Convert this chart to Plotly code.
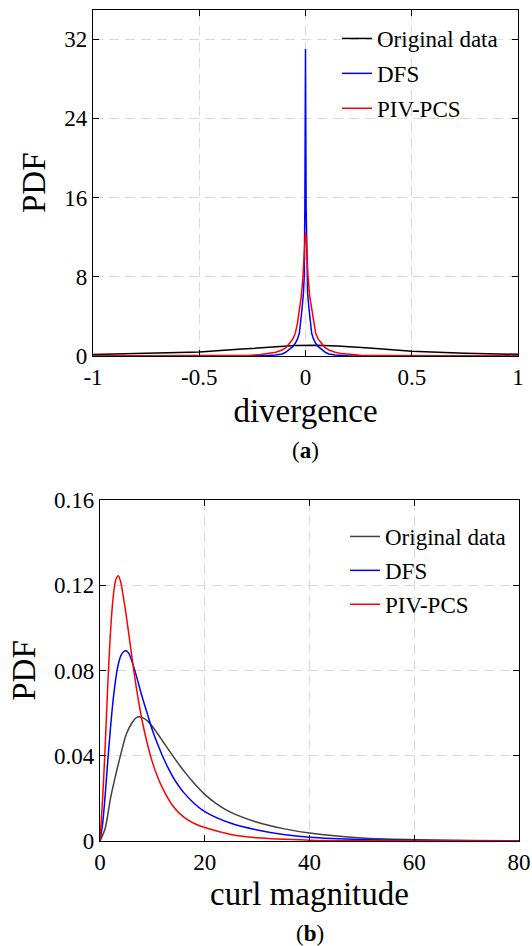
import plotly.graph_objects as go

# ---------------- Panel (a): divergence PDFs ----------------
div_orig_x = [-1.0, -0.75, -0.5, -0.3, -0.15, -0.05, 0.05, 0.15, 0.3, 0.5, 0.75, 1.0]
div_orig_y = [0.15, 0.25, 0.40, 0.70, 0.95, 1.05, 1.08, 1.02, 0.80, 0.47, 0.28, 0.17]

div_dfs_x = [-1.0, -0.5, -0.3, -0.2, -0.14, -0.11, -0.095, -0.079, -0.06, -0.048, -0.038, -0.029,
             -0.023, -0.017, -0.01, -0.006, -0.003, -0.0015, 0.0,
             0.003, 0.006, 0.01, 0.017, 0.023, 0.029, 0.038, 0.048, 0.06, 0.079, 0.095,
             0.11, 0.14, 0.2, 0.3, 0.5, 1.0]
div_dfs_y = [0.0, 0.003, 0.01, 0.03, 0.09, 0.2, 0.35, 0.6, 0.95, 1.28, 1.7, 2.3,
             3.3, 4.65, 6.3, 8.0, 15.0, 26.5, 31.0,
             15.0, 8.0, 6.3, 4.65, 3.3, 2.3, 1.7, 1.28, 0.95, 0.6, 0.35,
             0.2, 0.09, 0.03, 0.01, 0.003, 0.0]

div_pcs_x = [-1.0, -0.75, -0.5, -0.35, -0.26, -0.21, -0.17, -0.14, -0.11, -0.09, -0.075, -0.06,
             -0.048, -0.038, -0.029, -0.02, -0.012, -0.008, -0.004, 0.0,
             0.004, 0.008, 0.012, 0.02, 0.029, 0.038, 0.048, 0.06, 0.075, 0.09, 0.11,
             0.14, 0.17, 0.21, 0.26, 0.35, 0.5, 0.75, 1.0]
div_pcs_y = [0.004, 0.008, 0.02, 0.04, 0.08, 0.14, 0.24, 0.38, 0.6, 0.9, 1.28, 1.7,
             2.3, 3.3, 4.65, 6.0, 8.0, 9.8, 11.8, 12.5,
             11.8, 9.8, 8.0, 6.0, 4.65, 3.3, 2.3, 1.7, 1.28, 0.9, 0.6,
             0.38, 0.24, 0.14, 0.08, 0.04, 0.02, 0.008, 0.004]

# ---------------- Panel (b): curl magnitude PDFs ----------------
curl_orig_x = [0, 1, 2, 3, 4, 5, 6, 7, 7.5, 8, 9, 10, 11, 12, 14, 16, 18, 20, 22, 25, 30, 35, 40, 50,
               60, 70, 80]
curl_orig_y = [0, 0.006, 0.02, 0.031, 0.041, 0.05, 0.055, 0.058, 0.0583, 0.058, 0.0565, 0.0537, 0.0503,
               0.0467, 0.0396, 0.0329, 0.0270, 0.0219, 0.0179, 0.0134, 0.0088, 0.0058, 0.0037, 0.0014,
               0.0006, 0.0002, 0.0001]

curl_dfs_x = [0, 0.5, 1, 1.5, 2, 2.5, 3, 3.5, 4, 4.5, 5, 5.5, 6, 7, 8, 9, 10, 11, 12, 13, 14, 15, 16, 18,
              20, 25, 30, 35, 40, 50, 60, 80]
curl_dfs_y = [0, 0.008, 0.022, 0.038, 0.053, 0.066, 0.076, 0.083, 0.087, 0.0888, 0.0893, 0.088, 0.085,
              0.077, 0.068, 0.06, 0.052, 0.0455, 0.0395, 0.0343, 0.0297, 0.0259, 0.0227, 0.0176,
              0.0138, 0.0083, 0.0052, 0.0031, 0.0018, 0.0007, 0.0003, 0.0]

curl_pcs_x = [0, 0.5, 1, 1.5, 2, 2.5, 3, 3.5, 4, 4.5, 5, 6, 7, 8, 9, 10, 11, 12, 14, 16, 18, 20, 25, 30,
              40, 50, 80]
curl_pcs_y = [0, 0.02, 0.045, 0.074, 0.098, 0.114, 0.1225, 0.1245, 0.121, 0.114, 0.106, 0.088, 0.071,
              0.057, 0.046, 0.037, 0.030, 0.0245, 0.0162, 0.0112, 0.0082, 0.0063, 0.0031, 0.0015, 0.0004,
              0.0001, 0.0]

names = ["Original data", "DFS", "PIV-PCS"]

FONT = "Liberation Serif, Times New Roman, serif"
W, H = 532, 946

fig = go.Figure()

top_colors = ["#000000", "#0000ff", "#ff0000"]
bot_colors = ["#404040", "#0000ff", "#ff0000"]

for i, (xs, ys) in enumerate([(div_orig_x, div_orig_y), (div_dfs_x, div_dfs_y), (div_pcs_x, div_pcs_y)]):
    fig.add_trace(go.Scatter(x=xs, y=ys, mode="lines", name=names[i],
                             line=dict(color=top_colors[i], width=1.5),
                             xaxis="x", yaxis="y", legend="legend", legendgroup="a%d" % i))

for i, (xs, ys) in enumerate([(curl_orig_x, curl_orig_y), (curl_dfs_x, curl_dfs_y), (curl_pcs_x, curl_pcs_y)]):
    fig.add_trace(go.Scatter(x=xs, y=ys, mode="lines", name=names[i],
                             line=dict(color=bot_colors[i], width=1.5, shape="spline", smoothing=0.8),
                             xaxis="x2", yaxis="y2", legend="legend2", legendgroup="b%d" % i))

axis_common = dict(
    automargin=False,
    showline=True, linecolor="black", linewidth=1.3, mirror="allticks",
    ticks="inside", ticklen=6, tickcolor="black", tickwidth=1,
    showgrid=True, gridcolor="#dadada", griddash="10px,6px", gridwidth=1.4,
    zeroline=False, tickfont=dict(family=FONT, size=23, color="black"),
)

title_font = dict(family=FONT, size=33, color="black")

fig.update_layout(
    template="none",
    width=W, height=H,
    margin=dict(l=0, r=0, t=0, b=0, autoexpand=False),
    paper_bgcolor="white", plot_bgcolor="white",
    font=dict(family=FONT, color="black", size=23),
    xaxis=dict(domain=[93 / W, 518 / W], range=[-1, 1], anchor="y",
               tickvals=[-1, -0.5, 0, 0.5, 1], ticktext=["-1", "-0.5", "0", "0.5", "1"],
               title=dict(text="divergence", font=title_font, standoff=10),
               **axis_common),
    yaxis=dict(domain=[1 - 356 / H, 1 - 9.5 / H], range=[0, 35], anchor="x",
               tickvals=[0, 8, 16, 24, 32],
               title=dict(text="PDF", font=title_font, standoff=8),
               **axis_common),
    xaxis2=dict(domain=[100 / W, 519 / W], range=[0, 80], anchor="y2",
                tickvals=[0, 20, 40, 60, 80],
                title=dict(text="curl magnitude", font=title_font, standoff=8),
                **axis_common),
    yaxis2=dict(domain=[1 - 841 / H, 1 - 500 / H], range=[0, 0.16], anchor="x2",
                tickvals=[0, 0.04, 0.08, 0.12, 0.16], ticktext=["0", "0.04", "0.08", "0.12", "0.16"],
                title=dict(text="PDF", font=title_font, standoff=8),
                **axis_common),
    legend=dict(x=503 / W, y=1 - 17 / H, xanchor="right", yanchor="top",
                bgcolor="rgba(0,0,0,0)", borderwidth=0, tracegroupgap=2,
                font=dict(family=FONT, size=23, color="black")),
    legend2=dict(x=511 / W, y=1 - 515 / H, xanchor="right", yanchor="top",
                 bgcolor="rgba(0,0,0,0)", borderwidth=0, tracegroupgap=1,
                 font=dict(family=FONT, size=23, color="black")),
    showlegend=True,
    annotations=[
        dict(text="(<b>a</b>)", x=305.5 / W, y=1 - 450 / H, xref="paper", yref="paper",
             showarrow=False, font=dict(family=FONT, size=23, color="black"), yanchor="middle"),
        dict(text="(<b>b</b>)", x=309.5 / W, y=1 - 933 / H, xref="paper", yref="paper",
             showarrow=False, font=dict(family=FONT, size=23, color="black"), yanchor="middle"),
    ],
)

fig.write_html("out.html")
